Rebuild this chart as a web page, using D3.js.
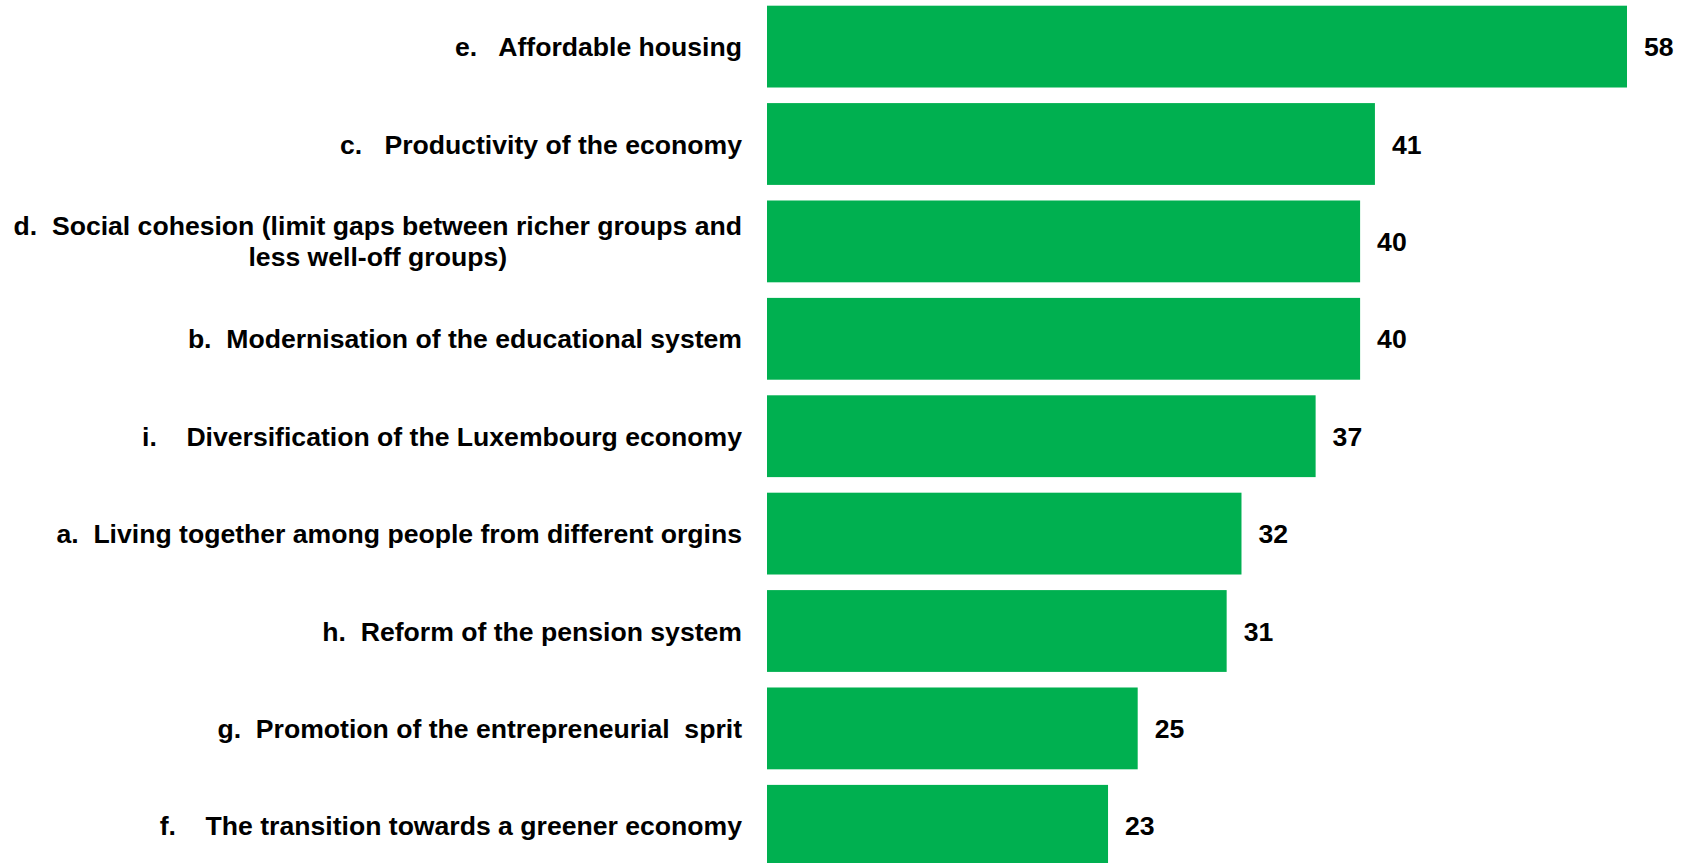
<!DOCTYPE html>
<html>
<head>
<meta charset="utf-8">
<script src="https://cdn.jsdelivr.net/npm/d3@7"></script>
<style>
  html, body { margin: 0; padding: 0; background: #fff; }
  svg { display: block; }
  text { font-family: "Liberation Sans", Arial, sans-serif; font-weight: bold; fill: #000; white-space: pre; }
</style>
</head>
<body>
<script>
// categories (prefix + text kept as in the source chart, incl. its spacing)
const prefixes = ['e.   ', 'c.   ', 'd.  ', 'b.  ', 'i.    ', 'a.  ', 'h.  ', 'g.  ', 'f.    '];
const labels = [
  ['Affordable housing'],
  ['Productivity of the economy'],
  ['Social cohesion (limit gaps between richer groups and', 'less well-off groups)'],
  ['Modernisation of the educational system'],
  ['Diversification of the Luxembourg economy'],
  ['Living together among people from different orgins'],
  ['Reform of the pension system'],
  ['Promotion of the entrepreneurial  sprit'],
  ['The transition towards a greener economy']
];
const values = [58, 41, 40, 40, 37, 32, 31, 25, 23];

const width = 1687;
const height = 863;
const barLeft = 767;
const labelRight = 742;
const fontSize = 26.6;

const rows = values.map((v, i) => ({ i, v, prefix: prefixes[i], lines: labels[i] }));

const x = d3
  .scaleLinear()
  .domain([0, d3.max(values)])
  .range([barLeft, 1627]);

const y = d3
  .scaleBand()
  .domain(d3.range(values.length))
  .range([-2.1, 874.5])
  .paddingInner(0.16)
  .paddingOuter(0.08);

const svg = d3.select('body')
  .append('svg')
  .attr('width', width)
  .attr('height', height);

svg.append('g')
  .selectAll('rect')
  .data(rows)
  .join('rect')
  .attr('x', x(0))
  .attr('y', d => y(d.i))
  .attr('width', d => x(d.v) - x(0))
  .attr('height', y.bandwidth())
  .attr('fill', '#00b050');

// value labels
svg.append('g')
  .selectAll('text')
  .data(rows)
  .join('text')
  .attr('x', d => x(d.v) + 17)
  .attr('y', d => y(d.i) + y.bandwidth() / 2 + fontSize * 0.358)
  .attr('font-size', fontSize)
  .text(d => d.v);

// category labels: right aligned block, extra lines centred under the first
const lineGap = 31;
const labelG = svg.append('g');

rows.forEach(d => {
  const cy = y(d.i) + y.bandwidth() / 2;
  const first = cy - (d.lines.length - 1) * lineGap / 2 + fontSize * 0.358;
  const t0 = labelG.append('text')
    .attr('x', labelRight)
    .attr('y', first)
    .attr('font-size', fontSize)
    .attr('text-anchor', 'end')
    .text(d.prefix + d.lines[0]);
  const w0 = t0.node().getComputedTextLength();
  const mid = labelRight - w0 / 2;
  d.lines.slice(1).forEach((line, k) => {
    labelG.append('text')
      .attr('x', mid)
      .attr('y', first + lineGap * (k + 1))
      .attr('font-size', fontSize)
      .attr('text-anchor', 'middle')
      .text(line);
  });
});
</script>
</body>
</html>
